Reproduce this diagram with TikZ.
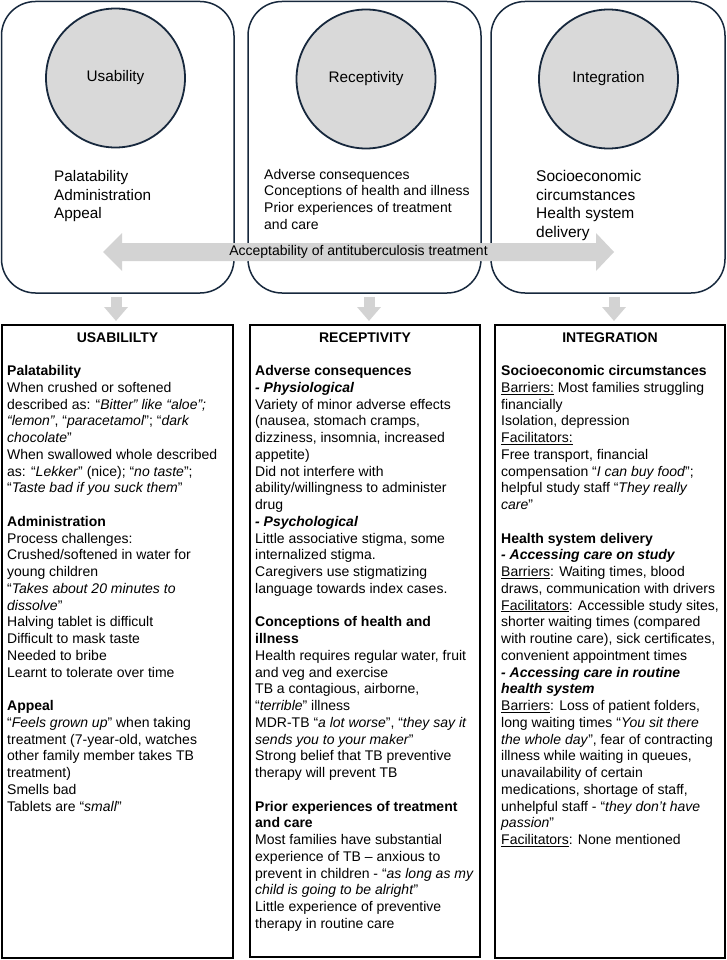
\documentclass[tikz,border=0pt]{standalone}
\usepackage{fontspec}
\setmainfont{Liberation Sans}
\usetikzlibrary{arrows.meta}
\definecolor{navy}{HTML}{17283D}
\definecolor{lgray}{HTML}{D9D9D9}
\definecolor{agray}{HTML}{D3D3D3}
\begin{document}
\begin{tikzpicture}[x=1pt,y=-1pt,
  topbox/.style={draw=navy, line width=1.5pt, rounded corners=34pt, inner sep=0pt},
  circ/.style={circle, draw=navy, line width=1.8pt, fill=lgray, minimum size=139pt, inner sep=0pt, font=\fontsize{15.3}{18}\selectfont},
  botbox/.style={draw=black, line width=2pt, inner sep=0pt},
  toptext/.style={inner sep=0pt, anchor=base west},
  body/.style={inner sep=0pt, anchor=base west, font=\fontsize{14}{16.75}\selectfont},
  title/.style={inner sep=0pt, anchor=base, font=\fontsize{14}{16.75}\selectfont\bfseries},
  downarr/.style={draw=agray, line width=11pt, -{Triangle[width=23pt,length=14pt]}, shorten <=3pt, shorten >=3pt},
  accarrow/.style={fill=agray},
  acclabel/.style={inner sep=0pt, font=\fontsize{14}{16.75}\selectfont}
]
\useasboundingbox (0,0) rectangle (727,960);
\fill[white] (0,0) rectangle (727,960);

% top rounded boxes
\node[topbox, minimum width=232.5pt, minimum height=291.5pt] (b1) at (117.75,147.25) {};
\node[topbox, minimum width=233pt, minimum height=291.5pt] (b2) at (364.5,147.25) {};
\node[topbox, minimum width=234pt, minimum height=291.5pt] (b3) at (608,147.25) {};

% circles
\node[circ] (c1) at (115.5,78) {Usability};
\node[circ] (c2) at (366,79) {Receptivity};
\node[circ] (c3) at (608.5,79) {Integration};

% texts under circles
\node[toptext, font=\fontsize{15.3}{18.4}\selectfont] (t1) at (54,182)
  {\parbox[t]{170pt}{\raggedright Palatability\\Administration\\Appeal}};
\node[toptext, font=\fontsize{14}{16.75}\selectfont] (t2) at (264,179)
  {\parbox[t]{215pt}{\raggedright Adverse consequences\\Conceptions of health and illness\\Prior experiences of treatment\\and care}};
\node[toptext, font=\fontsize{15.5}{18.6}\selectfont] (t3) at (536,181.5)
  {\parbox[t]{180pt}{\raggedright Socioeconomic\\circumstances\\Health system\\delivery}};

% double arrow
\fill[accarrow] (103,252) -- (122,233) -- (122,243) -- (596,243) -- (596,233)
  -- (614,252) -- (596,271) -- (596,261) -- (122,261) -- (122,271) -- cycle;
\node[acclabel] (acc) at (358.5,252) {Acceptability of antituberculosis treatment};

% bottom boxes
\node[botbox, minimum width=231pt, minimum height=633pt] (u1) at (117.5,641.5) {};
\node[botbox, minimum width=230pt, minimum height=632pt] (u2) at (365,641) {};
\node[botbox, minimum width=230pt, minimum height=633pt] (u3) at (610,641.5) {};

% down arrows
\draw[downarr] ([xshift=-1.75pt]b1.south) -- ([xshift=-1.5pt]u1.north);
\draw[downarr] ([xshift=4.5pt]b2.south) -- ([xshift=4pt]u2.north);
\draw[downarr] ([xshift=6pt]b3.south) -- ([xshift=4pt]u3.north);

% titles
\node[title] (h1) at (117.5,342) {USABILILTY};
\node[title] (h2) at (365,342) {RECEPTIVITY};
\node[title] (h3) at (610,342) {INTEGRATION};

% body texts
\node[body] (x1) at (7,375.5) {\parbox[t]{240pt}{\raggedright
\textbf{Palatability}\\
When crushed or softened\\
described as: “\textit{Bitter” like “aloe”;}\\
\textit{“lemon”}, “\textit{paracetamol}”; “\textit{dark}\\
\textit{chocolate}”\\
When swallowed whole described\\
as: “\textit{Lekker}” (nice); “\textit{no taste}”;\\
“\textit{Taste bad if you suck them}”\\[16.75pt]
\textbf{Administration}\\
Process challenges:\\
Crushed/softened in water for\\
young children\\
“\textit{Takes about 20 minutes to}\\
\textit{dissolve}”\\
Halving tablet is difficult\\
Difficult to mask taste\\
Needed to bribe\\
Learnt to tolerate over time\\[16.75pt]
\textbf{Appeal}\\
“\textit{Feels grown up}” when taking\\
treatment (7-year-old, watches\\
other family member takes TB\\
treatment)\\
Smells bad\\
Tablets are “\textit{small}”}};

\node[body] (x2) at (255,375.5) {\parbox[t]{240pt}{\raggedright
\textbf{Adverse consequences}\\
\textbf{\textit{- Physiological}}\\
Variety of minor adverse effects\\
(nausea, stomach cramps,\\
dizziness, insomnia, increased\\
appetite)\\
Did not interfere with\\
ability/willingness to administer\\
drug\\
\textbf{\textit{- Psychological}}\\
Little associative stigma, some\\
internalized stigma.\\
Caregivers use stigmatizing\\
language towards index cases.\\[16.75pt]
\textbf{Conceptions of health and}\\
\textbf{illness}\\
Health requires regular water, fruit\\
and veg and exercise\\
TB a contagious, airborne,\\
“\textit{terrible}” illness\\
MDR-TB “\textit{a lot worse}”, “\textit{they say it}\\
\textit{sends you to your maker}”\\
Strong belief that TB preventive\\
therapy will prevent TB\\[16.75pt]
\textbf{Prior experiences of treatment}\\
\textbf{and care}\\
Most families have substantial\\
experience of TB – anxious to\\
prevent in children - “\textit{as long as my}\\
\textit{child is going to be alright}”\\
Little experience of preventive\\
therapy in routine care}};

\node[body] (x3) at (501,375.5) {\parbox[t]{240pt}{\raggedright
\textbf{Socioeconomic circumstances}\\
\underline{Barriers:} Most families struggling\\
financially\\
Isolation, depression\\
\underline{Facilitators:}\\
Free transport, financial\\
compensation “\textit{I can buy food}”;\\
helpful study staff “\textit{They really}\\
\textit{care}”\\[16.75pt]
\textbf{Health system delivery}\\
\textbf{\textit{- Accessing care on study}}\\
\underline{Barriers}: Waiting times, blood\\
draws, communication with drivers\\
\underline{Facilitators}: Accessible study sites,\\
shorter waiting times (compared\\
with routine care), sick certificates,\\
convenient appointment times\\
\textbf{\textit{- Accessing care in routine}}\\
\textbf{\textit{health system}}\\
\underline{Barriers}: Loss of patient folders,\\
long waiting times “\textit{You sit there}\\
\textit{the whole day}”, fear of contracting\\
illness while waiting in queues,\\
unavailability of certain\\
medications, shortage of staff,\\
unhelpful staff - “\textit{they don’t have}\\
\textit{passion}”\\
\underline{Facilitators}: None mentioned}};
\end{tikzpicture}
\end{document}
